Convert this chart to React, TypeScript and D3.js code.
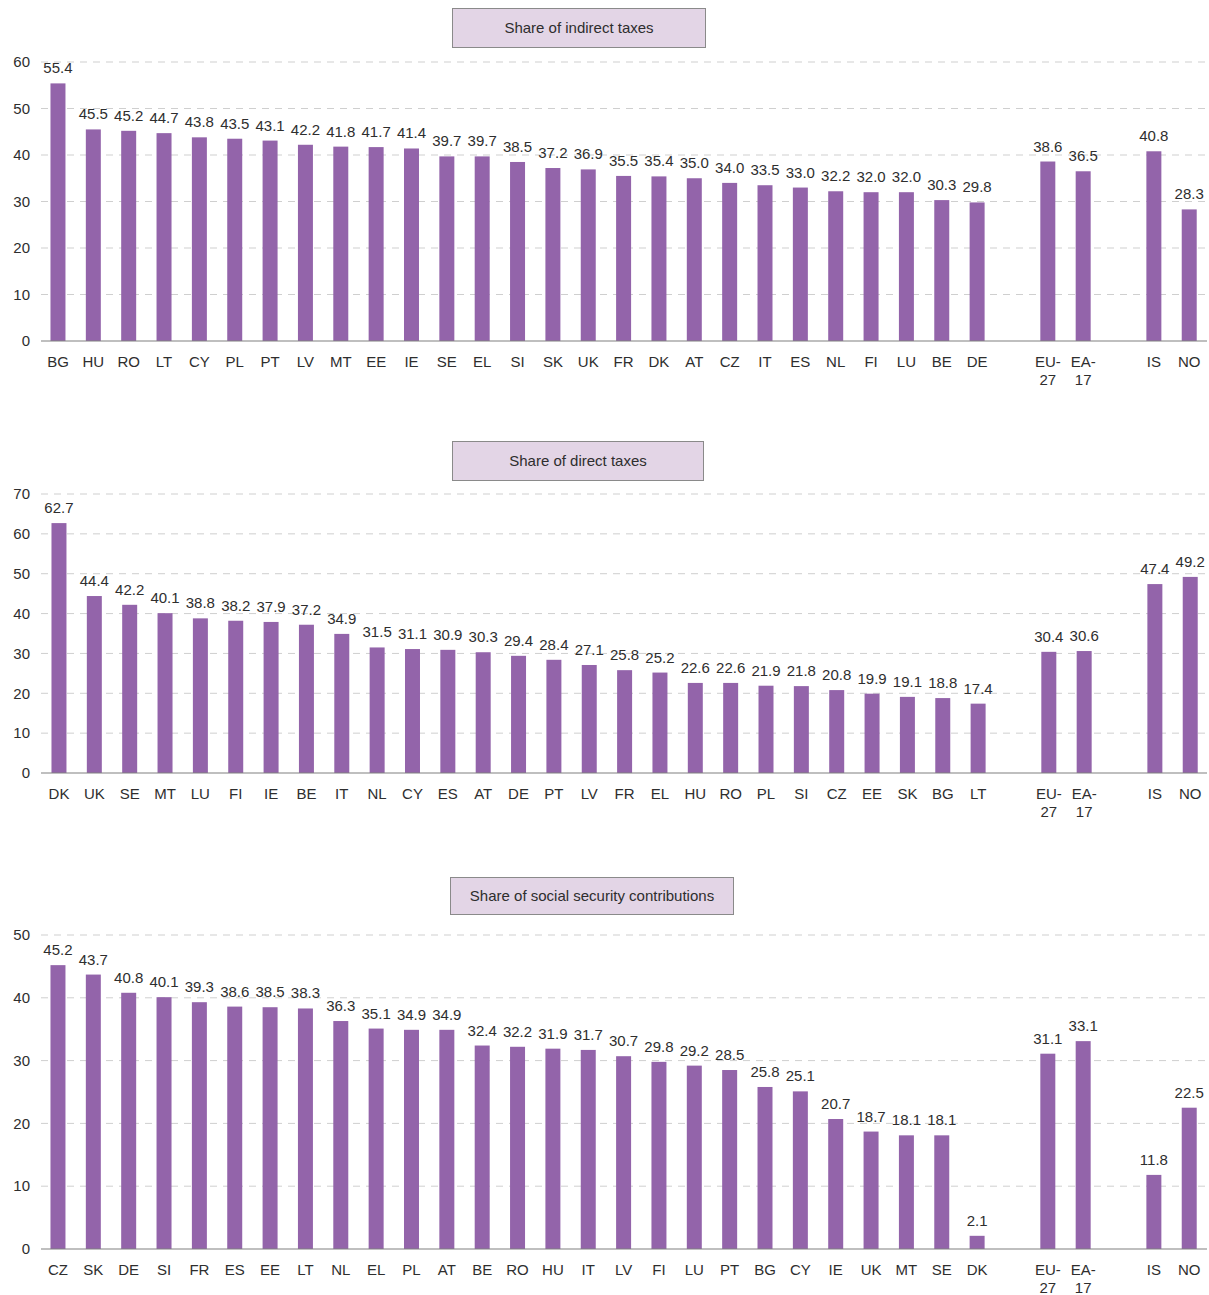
import React from 'react';
import * as d3 from 'd3';

// Share of indirect taxes
const indirectCountries = ['BG', 'HU', 'RO', 'LT', 'CY', 'PL', 'PT', 'LV', 'MT', 'EE', 'IE', 'SE', 'EL', 'SI', 'SK', 'UK', 'FR', 'DK', 'AT', 'CZ', 'IT', 'ES', 'NL', 'FI', 'LU', 'BE', 'DE'];
const indirectValues = [55.4, 45.5, 45.2, 44.7, 43.8, 43.5, 43.1, 42.2, 41.8, 41.7, 41.4, 39.7, 39.7, 38.5, 37.2, 36.9, 35.5, 35.4, 35.0, 34.0, 33.5, 33.0, 32.2, 32.0, 32.0, 30.3, 29.8];
const indirectAggregates = [38.6, 36.5];
const indirectOthers = [40.8, 28.3];

// Share of direct taxes
const directCountries = ['DK', 'UK', 'SE', 'MT', 'LU', 'FI', 'IE', 'BE', 'IT', 'NL', 'CY', 'ES', 'AT', 'DE', 'PT', 'LV', 'FR', 'EL', 'HU', 'RO', 'PL', 'SI', 'CZ', 'EE', 'SK', 'BG', 'LT'];
const directValues = [62.7, 44.4, 42.2, 40.1, 38.8, 38.2, 37.9, 37.2, 34.9, 31.5, 31.1, 30.9, 30.3, 29.4, 28.4, 27.1, 25.8, 25.2, 22.6, 22.6, 21.9, 21.8, 20.8, 19.9, 19.1, 18.8, 17.4];
const directAggregates = [30.4, 30.6];
const directOthers = [47.4, 49.2];

// Share of social security contributions
const socialCountries = ['CZ', 'SK', 'DE', 'SI', 'FR', 'ES', 'EE', 'LT', 'NL', 'EL', 'PL', 'AT', 'BE', 'RO', 'HU', 'IT', 'LV', 'FI', 'LU', 'PT', 'BG', 'CY', 'IE', 'UK', 'MT', 'SE', 'DK'];
const socialValues = [45.2, 43.7, 40.8, 40.1, 39.3, 38.6, 38.5, 38.3, 36.3, 35.1, 34.9, 34.9, 32.4, 32.2, 31.9, 31.7, 30.7, 29.8, 29.2, 28.5, 25.8, 25.1, 20.7, 18.7, 18.1, 18.1, 2.1];
const socialAggregates = [31.1, 33.1];
const socialOthers = [11.8, 22.5];

const aggregateLabels = ['EU-27', 'EA-17'];
const otherLabels = ['IS', 'NO'];

const indirectTicks = [0, 10, 20, 30, 40, 50, 60];
const directTicks = [0, 10, 20, 30, 40, 50, 60, 70];
const socialTicks = [0, 10, 20, 30, 40, 50];

const BAR = '#9364aa';
const TEXT = '#2e2e2e';
const FONT = '"Liberation Sans", Arial, sans-serif';

interface PanelProps {
  title: string;
  countries: string[];
  values: number[];
  aggregates: number[];
  others: number[];
  ticks: number[];
  y0: number; // pixel of value 0
  yTop: number; // pixel of max tick
  dx: number;
  box: { x: number; y: number; w: number; h: number };
}

function Panel({ title, countries, values, aggregates, others, ticks, y0, yTop, dx, box }: PanelProps) {
  const slots = [...countries, '_g1', ...aggregateLabels, '_g2', ...otherLabels];
  const vals = [...values, ...aggregates, ...others];
  const cats = [...countries, ...aggregateLabels, ...otherLabels];

  const x = d3.scaleBand<string>()
    .domain(slots)
    .range([40.3 + dx, 1206.9 + dx])
    .paddingInner(0.576)
    .paddingOuter(0.288);

  const y = d3.scaleLinear()
    .domain([0, d3.max(ticks) as number])
    .range([y0, yTop]);

  return (
    <g>
      {ticks.map(t => (
        <g key={t}>
          {t > 0 && (
            <line x1={41} x2={1207} y1={y(t)} y2={y(t)} stroke="#cfcfcf" strokeWidth={1} strokeDasharray="7,6" />
          )}
          <text x={30} y={y(t)} dy="0.35em" textAnchor="end" fontSize={15} fill={TEXT}>{t}</text>
        </g>
      ))}
      {cats.map((c, i) => {
        const v = vals[i];
        const bx = x(c) as number;
        const cx = bx + x.bandwidth() / 2;
        const lines = c.includes('-') ? [c.split('-')[0] + '-', c.split('-')[1]] : [c];
        return (
          <g key={c}>
            <rect x={bx} y={y(v)} width={x.bandwidth()} height={y0 - y(v)} fill={BAR} />
            <text x={cx} y={y(v) - 10} textAnchor="middle" fontSize={15} fill={TEXT}>{v.toFixed(1)}</text>
            {lines.map((l, j) => (
              <text key={j} x={cx} y={y0 + 26 + j * 18} textAnchor="middle" fontSize={15} fill={TEXT}>{l}</text>
            ))}
          </g>
        );
      })}
      <line x1={41} x2={1207} y1={y0} y2={y0} stroke="#808080" strokeWidth={1.2} />
      <rect x={box.x} y={box.y} width={box.w} height={box.h} fill="#e3d5e6" stroke="#8a8a8a" strokeWidth={1} />
      <text x={box.x + box.w / 2} y={box.y + box.h / 2} dy="0.35em" textAnchor="middle" fontSize={15} fill={TEXT}>{title}</text>
    </g>
  );
}

export default function App() {
  return (
    <svg
      width={1209}
      height={1295}
      style={{ position: 'absolute', left: 0, top: 0, background: '#fff', fontFamily: FONT }}
    >
      <Panel
        title="Share of indirect taxes"
        countries={indirectCountries}
        values={indirectValues}
        aggregates={indirectAggregates}
        others={indirectOthers}
        ticks={indirectTicks}
        y0={341}
        yTop={62}
        dx={0}
        box={{ x: 452.5, y: 8.5, w: 253, h: 39 }}
      />
      <Panel
        title="Share of direct taxes"
        countries={directCountries}
        values={directValues}
        aggregates={directAggregates}
        others={directOthers}
        ticks={directTicks}
        y0={773}
        yTop={494}
        dx={1}
        box={{ x: 452.5, y: 441.5, w: 251, h: 39 }}
      />
      <Panel
        title="Share of social security contributions"
        countries={socialCountries}
        values={socialValues}
        aggregates={socialAggregates}
        others={socialOthers}
        ticks={socialTicks}
        y0={1249}
        yTop={935}
        dx={0}
        box={{ x: 450.5, y: 877.5, w: 283, h: 37 }}
      />
    </svg>
  );
}
